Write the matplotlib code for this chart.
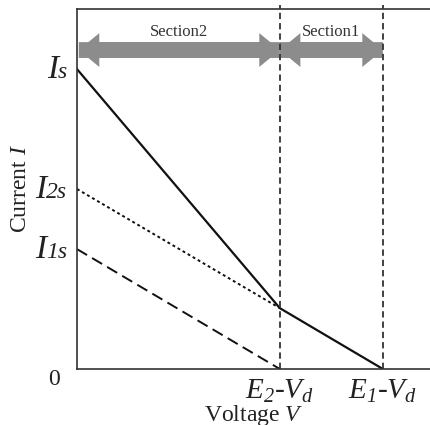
import matplotlib.pyplot as plt
import matplotlib as mpl
from matplotlib.offsetbox import TextArea, HPacker, AnnotationBbox

# I-V characteristic (normalised units)
E2_Vd = 0.573
E1_Vd = 0.864
I_s = 0.833
I_2s = 0.50
I_1s = 0.333
I_knee = 0.169

total_x = [0.0, E2_Vd, E1_Vd]
total_y = [I_s, I_knee, 0.0]
cell2_x = [0.0, E2_Vd]
cell2_y = [I_2s, I_knee]
cell1_x = [0.0, E2_Vd]
cell1_y = [I_1s, 0.0]

ylabel_vals = [I_s, I_2s, I_1s]
ylabel_parts = [("I", "s"), ("I", "2s"), ("I", "1s")]
xtick_vals = [E2_Vd, E1_Vd]
# \mathsf is mapped to the italic serif so digits come out italic too
xtick_labels = [r"$E_{\mathsf{2}}$-$V_d$", r"$E_{\mathsf{1}}$-$V_d$"]
section_labels = ["Section2", "Section1"]

mpl.rcParams["font.family"] = ["Liberation Serif", "DejaVu Serif"]
mpl.rcParams["mathtext.fontset"] = "custom"
mpl.rcParams["mathtext.rm"] = "Liberation Serif"
mpl.rcParams["mathtext.it"] = "Liberation Serif:italic"
mpl.rcParams["mathtext.sf"] = "Liberation Serif:italic"

fig = plt.figure(figsize=(4.31, 4.25), dpi=100)
ax = fig.add_axes([77 / 431, 56 / 425, 354 / 431, 360 / 425])

ax.plot(total_x, total_y, color="#111111", lw=1.6, solid_joinstyle="miter")
ax.plot(cell2_x, cell2_y, color="#111111", lw=1.4, linestyle=(0, (1.5, 1.5)))
ax.plot(cell1_x, cell1_y, color="#111111", lw=1.4, linestyle=(0, (6, 3)))

for xv in xtick_vals:
    ax.axvline(xv, ymin=0, ymax=1.01, color="#333333", lw=1.3,
               linestyle=(0, (3.5, 2.2)), clip_on=False)

ax.set_xlim(0, 1)
ax.set_ylim(0, 1)

# section arrows (double headed, grey)
arrow_y = 0.886
arrow_kw = dict(width=0.044, head_width=0.094, head_length=0.058,
                length_includes_head=True, color="#8c8c8c", lw=0)
sections = [(0.005, E2_Vd), (E2_Vd, E1_Vd)]
for (x0, x1), label in zip(sections, section_labels):
    ax.arrow(x0, arrow_y, x1 - x0, 0, **arrow_kw)
    ax.arrow(x1, arrow_y, x0 - x1, 0, **arrow_kw)
    ax.text((x0 + x1) / 2, 0.925, label, ha="center", va="baseline",
            fontsize=12, color="#333333")

# y labels: big italic I with smaller italic suffix on the baseline
for val, (main, sub) in zip(ylabel_vals, ylabel_parts):
    box = HPacker(children=[
        TextArea(main, textprops=dict(fontsize=24, style="italic", color="#222222")),
        TextArea(sub, textprops=dict(fontsize=17, style="italic", color="#222222")),
    ], align="baseline", pad=0, sep=0)
    ab = AnnotationBbox(box, (0, val), xycoords=("axes fraction", "data"),
                        xybox=(-7, 0), boxcoords="offset points",
                        box_alignment=(1, 0.52), frameon=False,
                        annotation_clip=False)
    ax.add_artist(ab)

ax.set_yticks([0.0])
ax.set_yticklabels(["0"], fontsize=17, va="top")
ax.set_xticks(xtick_vals)
ax.set_xticklabels(xtick_labels, fontsize=21)
ax.tick_params(length=0, colors="#222222")
ax.tick_params(axis="y", pad=12)
ax.tick_params(axis="x", pad=6)

ax.set_xlabel(r"Voltage $V$", fontsize=17, labelpad=-1, color="#222222")
ax.set_ylabel(r"Current $I$", fontsize=17, color="#222222")
ax.yaxis.set_label_coords(-0.13, 0.5)

for side in ["left", "bottom", "top"]:
    ax.spines[side].set_color("#333333")
    ax.spines[side].set_linewidth(1.2)
ax.spines["right"].set_visible(False)

fig.savefig("out.png", dpi=100)
